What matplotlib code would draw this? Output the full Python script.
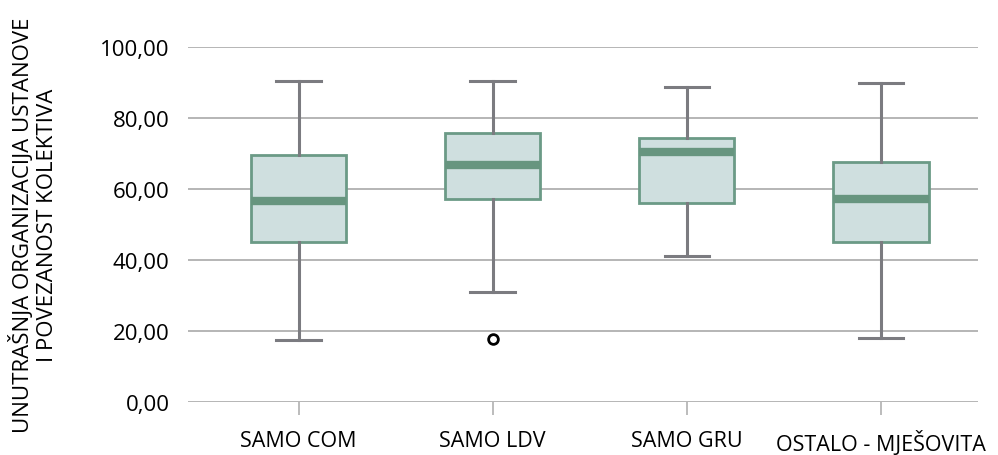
import matplotlib.pyplot as plt

plt.rcParams['font.family'] = ['Open Sans', 'DejaVu Sans']

# box statistics per group
groups = ["SAMO COM", "SAMO LDV", "SAMO GRU", "OSTALO - MJEŠOVITA"]
whisker_low = [17.5, 31.0, 41.1, 18.0]
q1 = [45.1, 57.2, 56.1, 45.1]
median = [56.6, 66.8, 70.4, 57.2]
q3 = [69.6, 75.8, 74.4, 67.6]
whisker_high = [90.4, 90.4, 88.7, 89.9]
outliers = [[], [17.7], [], []]

yticks = [0, 20, 40, 60, 80, 100]


def main():
    stats = []
    for i, name in enumerate(groups):
        stats.append({
            "label": name,
            "whislo": whisker_low[i],
            "q1": q1[i],
            "med": median[i],
            "q3": q3[i],
            "whishi": whisker_high[i],
            "fliers": outliers[i],
        })

    fig = plt.figure(figsize=(9.98, 4.56), dpi=100)
    ax = fig.add_axes([0.188, 0.116, 0.792, 0.779])

    ax.bxp(
        stats,
        positions=range(len(groups)),
        widths=0.49,
        patch_artist=True,
        boxprops=dict(facecolor="#cfdfdf", edgecolor="#6b9a86", linewidth=2),
        medianprops=dict(color="#67957f", linewidth=6, solid_capstyle="butt"),
        whiskerprops=dict(color="#7b7b80", linewidth=2.2),
        capprops=dict(color="#7b7b80", linewidth=2.2),
        capwidths=0.23,
        flierprops=dict(marker="o", markerfacecolor="none", markeredgecolor="black",
                        markersize=7, markeredgewidth=2),
        zorder=3,
    )

    ax.set_xlim(-0.572, 3.5)
    ax.set_ylim(0, 100)
    ax.set_yticks(yticks)
    ax.set_yticklabels([f"{v:.2f}".replace(".", ",") for v in yticks], fontsize=16)
    ax.set_xticks(range(len(groups)))
    ax.set_xticklabels(groups, fontsize=15.5)

    ax.yaxis.grid(True, color="#b0b0b0", linewidth=1.3, zorder=0)
    ax.set_axisbelow(True)
    for spine in ax.spines.values():
        spine.set_visible(False)

    ax.tick_params(axis="y", length=0, pad=13)
    ax.tick_params(axis="x", length=9, width=1.2, color="#b0b0b0", pad=11)

    ax.set_ylabel("UNUTRAŠNJA ORGANIZACIJA USTANOVE\nI POVEZANOST KOLEKTIVA",
                  fontsize=16, linespacing=1.2, labelpad=30)

    fig.savefig("out.png", dpi=100)


if __name__ == "__main__":
    main()
